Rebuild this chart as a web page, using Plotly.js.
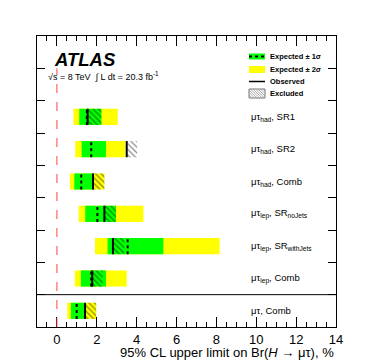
<!DOCTYPE html>
<html>
<head>
<meta charset="utf-8">
<script src="https://cdn.plot.ly/plotly-3.0.1.min.js"></script>
<style>
  body { margin: 0; background: #fff; }
  #chart { width: 374px; height: 364px; }
</style>
</head>
<body>
<div id="chart"></div>
<script>
// rows listed top to bottom
var labels = [
    "μτ<sub>had</sub>, SR1",
    "μτ<sub>had</sub>, SR2",
    "μτ<sub>had</sub>, Comb",
    "μτ<sub>lep</sub>, SR<sub>noJets</sub>",
    "μτ<sub>lep</sub>, SR<sub>withJets</sub>",
    "μτ<sub>lep</sub>, Comb",
    "μτ, Comb"
];
var expected = [1.50, 1.72, 1.22, 2.03, 3.55, 1.72, 0.99];
var observed = [1.54, 3.50, 1.81, 2.38, 2.81, 1.77, 1.41];
var minus2 = [0.83, 0.92, 0.65, 1.09, 1.91, 0.90, 0.52];
var minus1 = [1.12, 1.24, 0.87, 1.42, 2.54, 1.20, 0.70];
var plus1 = [2.23, 2.46, 1.79, 2.96, 5.34, 2.46, 1.41];
var plus2 = [3.05, 3.43, 2.38, 4.34, 8.16, 3.50, 1.97];
var excludedEnd = [2.23, 4.02, 2.38, 2.96, 3.38, 2.29, 1.97];

var rowY = labels.map(function (l, i) { return 6.5 - i; });
var half = 0.25;

function widths(lo, hi) { return hi.map(function (h, i) { return h - lo[i]; }); }

function segments(vals) {
    var xs = [], ys = [];
    vals.forEach(function (v, i) {
        xs.push(v, v, null);
        ys.push(rowY[i] - half, rowY[i] + half, null);
    });
    return { x: xs, y: ys };
}

var expSeg = segments(expected);
var obsSeg = segments(observed);

var data = [
    {
        type: 'bar', orientation: 'h',
        y: rowY, base: minus2, x: widths(minus2, plus2),
        width: 0.5, marker: { color: '#ffff00', line: { width: 0 } },
        hoverinfo: 'skip', showlegend: false
    },
    {
        type: 'bar', orientation: 'h',
        y: rowY, base: minus1, x: widths(minus1, plus1),
        width: 0.5, marker: { color: '#00ff00', line: { width: 0 } },
        hoverinfo: 'skip', showlegend: false
    },
    {
        type: 'bar', orientation: 'h',
        y: rowY, base: observed, x: widths(observed, excludedEnd),
        width: 0.5,
        marker: {
            color: 'rgba(0,0,0,0)', line: { width: 0 },
            pattern: { shape: '\\', fgcolor: 'black', fgopacity: 0.45, bgcolor: 'rgba(0,0,0,0)', size: 4, solidity: 0.3, fillmode: 'overlay' }
        },
        hoverinfo: 'skip', showlegend: false
    },
    {
        type: 'scatter', mode: 'lines', x: expSeg.x, y: expSeg.y,
        line: { color: 'black', width: 2, dash: 'dot' },
        hoverinfo: 'skip', showlegend: false
    },
    {
        type: 'scatter', mode: 'lines', x: obsSeg.x, y: obsSeg.y,
        line: { color: 'black', width: 2 },
        hoverinfo: 'skip', showlegend: false
    }
];

// pixel helpers for decorations
var L = 37, R = 336, T = 36, B = 327;
function px(x) { return (x - L) / (R - L); }
function py(y) { return (B - y) / (B - T); }

var shapes = [
    { type: 'line', xref: 'paper', yref: 'y', x0: 0, x1: 1, y0: 1, y1: 1, line: { color: 'black', width: 1 } },
    { type: 'line', xref: 'x', yref: 'y', x0: 0, x1: 0, y0: 0, y1: 8, line: { color: '#ff4444', width: 1, dash: 'dash' } },
    // legend symbols
    { type: 'rect', xref: 'paper', yref: 'paper', x0: px(249), x1: px(265), y0: py(59.5), y1: py(53.5), fillcolor: '#00ff00', line: { width: 0 } },
    { type: 'line', xref: 'paper', yref: 'paper', x0: px(249), x1: px(265), y0: py(56.5), y1: py(56.5), line: { color: 'black', width: 2, dash: 'dot' } },
    { type: 'rect', xref: 'paper', yref: 'paper', x0: px(249), x1: px(265), y0: py(73), y1: py(66), fillcolor: '#ffff00', line: { width: 0 } },
    { type: 'line', xref: 'paper', yref: 'paper', x0: px(249), x1: px(265), y0: py(81.5), y1: py(81.5), line: { color: 'black', width: 1.5 } },
    { type: 'rect', xref: 'paper', yref: 'paper', x0: px(249), x1: px(265), y0: py(98), y1: py(89), fillcolor: 'rgba(0,0,0,0)', line: { color: '#777', width: 1 } }
];
for (var k = -6; k < 16; k += 2.5) {
    var xa = 249 + k, xb = xa + 9;
    var ya = 89, yb = 98;
    // clip to box
    if (xa < 249) { ya += 249 - xa; xa = 249; }
    if (xb > 265) { yb -= xb - 265; xb = 265; }
    if (ya < yb) {
        shapes.push({ type: 'line', xref: 'paper', yref: 'paper', x0: px(xa), x1: px(xb), y0: py(ya), y1: py(yb), line: { color: '#888', width: 0.7 } });
    }
}

var annotations = labels.map(function (l, i) {
    return { text: l, xref: 'paper', yref: 'y', x: px(249), y: rowY[i], xanchor: 'left', yanchor: 'middle', showarrow: false, font: { size: 9.5, color: 'black' } };
});
var legendText = ["Expected ± 1σ", "Expected ± 2σ", "Observed", "Excluded"];
var legendY = [56.5, 69.5, 81.5, 93.5];
legendText.forEach(function (t, i) {
    annotations.push({ text: '<b>' + t + '</b>', xref: 'paper', yref: 'paper', x: px(268), y: py(legendY[i]), xanchor: 'left', yanchor: 'middle', showarrow: false, font: { size: 7.5, color: 'black' } });
});
annotations.push(
    { text: '<b><i>ATLAS</i></b>', xref: 'paper', yref: 'paper', x: px(52), y: py(59), xanchor: 'left', yanchor: 'middle', showarrow: false, font: { size: 18.5, color: 'black' } },
    { text: '√s = 8 TeV  ∫ L dt = 20.3 fb<sup>-1</sup>', xref: 'paper', yref: 'paper', x: px(46), y: py(76), xanchor: 'left', yanchor: 'middle', showarrow: false, font: { size: 9, color: 'black' } },
    { text: '95% CL upper limit on Br(<i>H</i> → μτ), %', xref: 'paper', yref: 'paper', x: 1, y: py(352), xanchor: 'right', yanchor: 'middle', showarrow: false, font: { size: 13, color: 'black' } }
);

var layout = {
    width: 374, height: 364,
    margin: { l: L, r: 374 - R, t: T, b: 364 - B, pad: 0 },
    paper_bgcolor: 'white', plot_bgcolor: 'white',
    font: { family: 'Liberation Sans, Arial, sans-serif', color: 'black' },
    barmode: 'overlay',
    showlegend: false,
    xaxis: {
        range: [-1, 14], tickvals: [0, 2, 4, 6, 8, 10, 12, 14],
        ticks: 'inside', ticklen: 10, tickcolor: 'black', tickwidth: 1,
        minor: { dtick: 0.5, ticks: 'inside', ticklen: 5, tickcolor: 'black' },
        showline: true, linecolor: 'black', linewidth: 1, mirror: 'allticks',
        showgrid: false, zeroline: false, tickfont: { size: 13 }
    },
    yaxis: {
        range: [0, 9], tickvals: [1, 2, 3, 4, 5, 6, 7, 8], showticklabels: false,
        ticks: 'inside', ticklen: 8, tickcolor: 'black', tickwidth: 1,
        showline: true, linecolor: 'black', linewidth: 1, mirror: 'allticks',
        showgrid: false, zeroline: false
    },
    shapes: shapes,
    annotations: annotations
};

Plotly.newPlot('chart', data, layout, { staticPlot: true });
</script>
</body>
</html>
